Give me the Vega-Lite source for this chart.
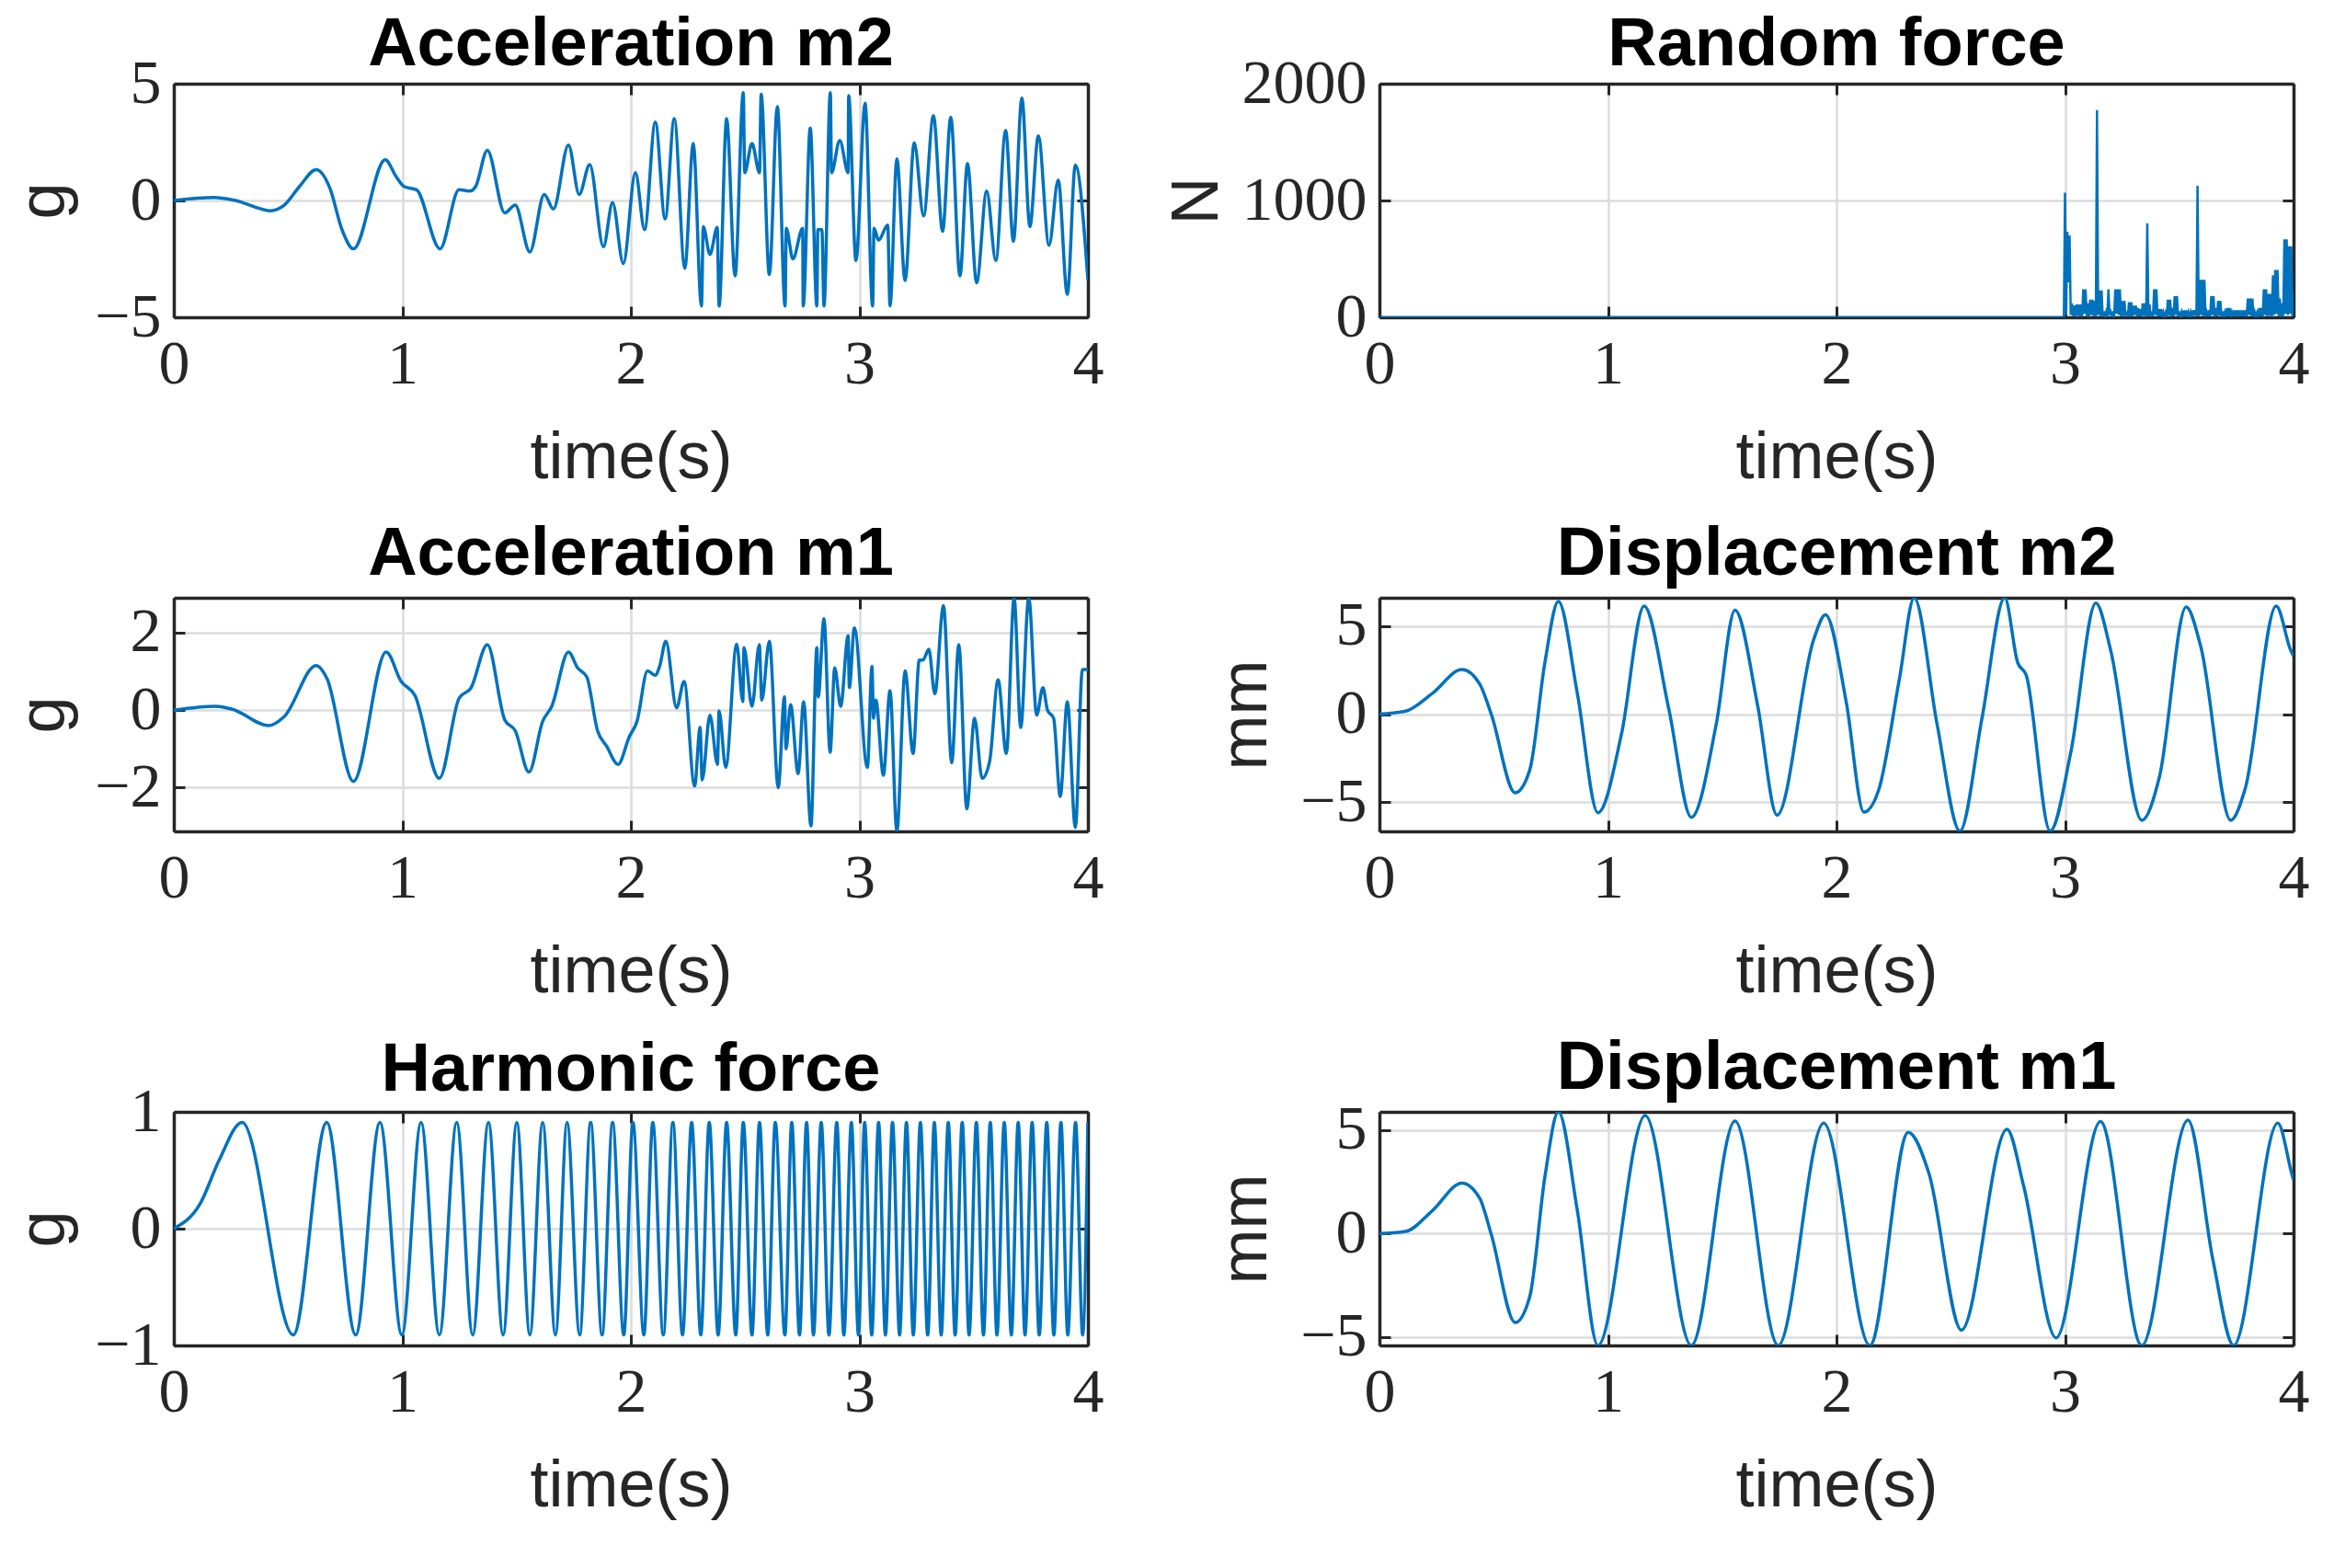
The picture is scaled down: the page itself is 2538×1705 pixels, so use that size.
{
"$schema": "https://vega.github.io/schema/vega-lite/v6.json",
"background": "white",
"padding": {"left": 11, "top": 12, "right": 20, "bottom": 20},
"bounds": "flush",
"columns": 2,
"spacing": {"row": 305, "column": 317},
"datasets": {
"am2": [{"t":0,"v":0},{"t":0.177,"v":0.13},{"t":0.27,"v":0},{"t":0.423,"v":-0.44},{"t":0.483,"v":-0.2},{"t":0.55,"v":0.6},{"t":0.623,"v":1.32},{"t":0.683,"v":0.53},{"t":0.736,"v":-1.25},{"t":0.786,"v":-2.07},{"t":0.925,"v":1.74},{"t":0.975,"v":0.99},{"t":1.009,"v":0.59},{"t":1.062,"v":0.46},{"t":1.165,"v":-2.07},{"t":1.248,"v":0.46},{"t":1.295,"v":0.4},{"t":1.321,"v":0.6},{"t":1.372,"v":2.15},{"t":1.448,"v":-0.53},{"t":1.494,"v":-0.2},{"t":1.558,"v":-2.2},{"t":1.621,"v":0.26},{"t":1.661,"v":-0.36},{"t":1.727,"v":2.37},{"t":1.774,"v":0.26},{"t":1.82,"v":1.54},{"t":1.88,"v":-1.98},{"t":1.92,"v":-0.09},{"t":1.967,"v":-2.7},{"t":2.02,"v":1.19},{"t":2.06,"v":-1.25},{"t":2.107,"v":3.36},{"t":2.15,"v":-0.79},{"t":2.19,"v":3.5},{"t":2.236,"v":-2.9},{"t":2.273,"v":2.44},{"t":2.309,"v":-4.52},{"t":2.317,"v":-1.12},{"t":2.346,"v":-2.31},{"t":2.378,"v":-1.15},{"t":2.386,"v":-4.52},{"t":2.419,"v":3.5},{"t":2.456,"v":-3.23},{"t":2.492,"v":4.62},{"t":2.498,"v":1.19},{"t":2.53,"v":2.44},{"t":2.563,"v":1.19},{"t":2.57,"v":4.55},{"t":2.606,"v":-3.17},{"t":2.641,"v":4.02},{"t":2.675,"v":-4.52},{"t":2.68,"v":-1.19},{"t":2.709,"v":-2.5},{"t":2.752,"v":-1.19},{"t":2.754,"v":-4.52},{"t":2.785,"v":3.1},{"t":2.814,"v":-4.52},{"t":2.818,"v":-1.25},{"t":2.836,"v":-1.25},{"t":2.845,"v":-4.52},{"t":2.873,"v":4.62},{"t":2.878,"v":1.19},{"t":2.914,"v":2.57},{"t":2.951,"v":1.19},{"t":2.953,"v":4.49},{"t":2.985,"v":-2.57},{"t":3.025,"v":4.16},{"t":3.058,"v":-4.52},{"t":3.064,"v":-1.19},{"t":3.084,"v":-1.7},{"t":3.124,"v":-1.05},{"t":3.134,"v":-4.52},{"t":3.164,"v":1.78},{"t":3.2,"v":-3.43},{"t":3.24,"v":2.47},{"t":3.281,"v":-0.66},{"t":3.324,"v":3.63},{"t":3.364,"v":-1.32},{"t":3.4,"v":3.56},{"t":3.44,"v":-3.23},{"t":3.473,"v":1.58},{"t":3.513,"v":-3.52},{"t":3.557,"v":0.4},{"t":3.597,"v":-2.57},{"t":3.64,"v":3.0},{"t":3.674,"v":-1.75},{"t":3.711,"v":4.39},{"t":3.746,"v":-1.12},{"t":3.783,"v":2.77},{"t":3.83,"v":-1.91},{"t":3.87,"v":0.88},{"t":3.91,"v":-4.02},{"t":3.945,"v":1.52},{"t":4.0,"v":-3.4}],
"rf": [{"t":0,"v":0},{"t":2.995,"v":0},{"t":3.000,"v":1067},{"t":3.005,"v":20},{"t":3.010,"v":733},{"t":3.015,"v":300},{"t":3.020,"v":700},{"t":3.025,"v":20},{"t":3.030,"v":120},{"t":3.035,"v":10},{"t":3.040,"v":100},{"t":3.045,"v":5},{"t":3.050,"v":110},{"t":3.055,"v":15},{"t":3.060,"v":110},{"t":3.065,"v":5},{"t":3.070,"v":110},{"t":3.075,"v":10},{"t":3.080,"v":240},{"t":3.085,"v":30},{"t":3.090,"v":240},{"t":3.095,"v":10},{"t":3.100,"v":120},{"t":3.105,"v":5},{"t":3.110,"v":150},{"t":3.115,"v":20},{"t":3.120,"v":150},{"t":3.125,"v":10},{"t":3.130,"v":140},{"t":3.135,"v":5},{"t":3.140,"v":1773},{"t":3.145,"v":20},{"t":3.150,"v":230},{"t":3.155,"v":10},{"t":3.160,"v":230},{"t":3.165,"v":5},{"t":3.170,"v":50},{"t":3.175,"v":10},{"t":3.180,"v":45},{"t":3.185,"v":5},{"t":3.190,"v":240},{"t":3.195,"v":20},{"t":3.200,"v":45},{"t":3.205,"v":10},{"t":3.210,"v":50},{"t":3.215,"v":5},{"t":3.220,"v":240},{"t":3.225,"v":30},{"t":3.230,"v":240},{"t":3.235,"v":20},{"t":3.240,"v":240},{"t":3.245,"v":10},{"t":3.250,"v":140},{"t":3.255,"v":5},{"t":3.260,"v":140},{"t":3.265,"v":15},{"t":3.270,"v":50},{"t":3.275,"v":5},{"t":3.280,"v":130},{"t":3.285,"v":10},{"t":3.290,"v":130},{"t":3.295,"v":5},{"t":3.300,"v":100},{"t":3.305,"v":20},{"t":3.310,"v":100},{"t":3.315,"v":5},{"t":3.320,"v":80},{"t":3.325,"v":10},{"t":3.330,"v":70},{"t":3.335,"v":5},{"t":3.340,"v":120},{"t":3.345,"v":15},{"t":3.350,"v":120},{"t":3.355,"v":5},{"t":3.360,"v":805},{"t":3.365,"v":10},{"t":3.370,"v":110},{"t":3.375,"v":5},{"t":3.380,"v":50},{"t":3.385,"v":10},{"t":3.390,"v":240},{"t":3.395,"v":20},{"t":3.400,"v":240},{"t":3.405,"v":5},{"t":3.410,"v":70},{"t":3.415,"v":10},{"t":3.420,"v":70},{"t":3.425,"v":5},{"t":3.430,"v":45},{"t":3.435,"v":10},{"t":3.440,"v":40},{"t":3.445,"v":5},{"t":3.450,"v":150},{"t":3.455,"v":15},{"t":3.460,"v":150},{"t":3.465,"v":5},{"t":3.470,"v":80},{"t":3.475,"v":10},{"t":3.480,"v":180},{"t":3.485,"v":20},{"t":3.490,"v":180},{"t":3.495,"v":5},{"t":3.500,"v":50},{"t":3.505,"v":10},{"t":3.510,"v":45},{"t":3.515,"v":5},{"t":3.520,"v":60},{"t":3.525,"v":10},{"t":3.530,"v":60},{"t":3.535,"v":5},{"t":3.540,"v":45},{"t":3.545,"v":10},{"t":3.550,"v":45},{"t":3.555,"v":5},{"t":3.560,"v":60},{"t":3.565,"v":15},{"t":3.570,"v":60},{"t":3.575,"v":5},{"t":3.580,"v":1125},{"t":3.585,"v":10},{"t":3.590,"v":320},{"t":3.595,"v":20},{"t":3.600,"v":320},{"t":3.605,"v":10},{"t":3.610,"v":320},{"t":3.615,"v":5},{"t":3.620,"v":45},{"t":3.625,"v":10},{"t":3.630,"v":60},{"t":3.635,"v":5},{"t":3.640,"v":180},{"t":3.645,"v":20},{"t":3.650,"v":180},{"t":3.655,"v":5},{"t":3.660,"v":80},{"t":3.665,"v":10},{"t":3.670,"v":140},{"t":3.675,"v":15},{"t":3.680,"v":140},{"t":3.685,"v":5},{"t":3.690,"v":50},{"t":3.695,"v":10},{"t":3.700,"v":45},{"t":3.705,"v":5},{"t":3.710,"v":80},{"t":3.715,"v":10},{"t":3.720,"v":80},{"t":3.725,"v":5},{"t":3.730,"v":45},{"t":3.735,"v":10},{"t":3.740,"v":60},{"t":3.745,"v":5},{"t":3.750,"v":60},{"t":3.755,"v":10},{"t":3.760,"v":60},{"t":3.765,"v":5},{"t":3.770,"v":60},{"t":3.775,"v":10},{"t":3.780,"v":60},{"t":3.785,"v":5},{"t":3.790,"v":60},{"t":3.795,"v":10},{"t":3.800,"v":160},{"t":3.805,"v":20},{"t":3.810,"v":160},{"t":3.815,"v":10},{"t":3.820,"v":160},{"t":3.825,"v":5},{"t":3.830,"v":45},{"t":3.835,"v":10},{"t":3.840,"v":40},{"t":3.845,"v":5},{"t":3.850,"v":80},{"t":3.855,"v":10},{"t":3.860,"v":80},{"t":3.865,"v":5},{"t":3.870,"v":240},{"t":3.875,"v":20},{"t":3.880,"v":240},{"t":3.885,"v":10},{"t":3.890,"v":200},{"t":3.895,"v":15},{"t":3.900,"v":200},{"t":3.905,"v":5},{"t":3.910,"v":360},{"t":3.915,"v":20},{"t":3.920,"v":405},{"t":3.925,"v":30},{"t":3.930,"v":405},{"t":3.935,"v":10},{"t":3.940,"v":160},{"t":3.945,"v":5},{"t":3.950,"v":120},{"t":3.955,"v":10},{"t":3.960,"v":667},{"t":3.965,"v":30},{"t":3.970,"v":667},{"t":3.975,"v":20},{"t":3.980,"v":608},{"t":3.985,"v":30},{"t":3.990,"v":608},{"t":3.995,"v":10},{"t":4.000,"v":200}],
"am1": [{"t":0,"v":0},{"t":0.184,"v":0.1},{"t":0.257,"v":0.02},{"t":0.416,"v":-0.4},{"t":0.483,"v":-0.17},{"t":0.623,"v":1.15},{"t":0.67,"v":0.82},{"t":0.786,"v":-1.84},{"t":0.929,"v":1.5},{"t":0.995,"v":0.74},{"t":1.055,"v":0.38},{"t":1.162,"v":-1.76},{"t":1.248,"v":0.3},{"t":1.301,"v":0.58},{"t":1.372,"v":1.69},{"t":1.448,"v":-0.25},{"t":1.494,"v":-0.53},{"t":1.554,"v":-1.6},{"t":1.614,"v":-0.29},{"t":1.654,"v":0.1},{"t":1.727,"v":1.5},{"t":1.767,"v":1.09},{"t":1.807,"v":0.86},{"t":1.854,"v":-0.53},{"t":1.894,"v":-0.93},{"t":1.944,"v":-1.4},{"t":1.993,"v":-0.69},{"t":2.027,"v":-0.29},{"t":2.073,"v":1.01},{"t":2.106,"v":0.9},{"t":2.126,"v":1.13},{"t":2.153,"v":1.78},{"t":2.2,"v":0.06},{"t":2.233,"v":0.74},{"t":2.279,"v":-1.96},{"t":2.303,"v":-0.45},{"t":2.312,"v":-1.8},{"t":2.346,"v":-0.13},{"t":2.379,"v":-1.4},{"t":2.386,"v":-0.02},{"t":2.415,"v":-1.48},{"t":2.463,"v":1.7},{"t":2.49,"v":0.22},{"t":2.495,"v":1.61},{"t":2.53,"v":0.1},{"t":2.562,"v":1.69},{"t":2.573,"v":0.26},{"t":2.606,"v":1.78},{"t":2.645,"v":-2.0},{"t":2.672,"v":0.34},{"t":2.679,"v":-1.0},{"t":2.699,"v":0.14},{"t":2.732,"v":-1.64},{"t":2.756,"v":0.22},{"t":2.788,"v":-2.99},{"t":2.814,"v":1.61},{"t":2.82,"v":0.34},{"t":2.845,"v":2.36},{"t":2.872,"v":-1.09},{"t":2.892,"v":1.09},{"t":2.918,"v":0.1},{"t":2.951,"v":1.92},{"t":2.956,"v":0.58},{"t":2.978,"v":2.12},{"t":3.035,"v":-1.48},{"t":3.055,"v":1.13},{"t":3.062,"v":-0.21},{"t":3.072,"v":0.26},{"t":3.105,"v":-1.68},{"t":3.134,"v":0.5},{"t":3.164,"v":-3.13},{"t":3.2,"v":1.01},{"t":3.235,"v":-1.12},{"t":3.262,"v":1.29},{"t":3.278,"v":1.29},{"t":3.304,"v":1.57},{"t":3.33,"v":0.42},{"t":3.368,"v":2.7},{"t":3.404,"v":-1.36},{"t":3.435,"v":1.69},{"t":3.47,"v":-2.55},{"t":3.504,"v":-0.21},{"t":3.537,"v":-1.76},{"t":3.57,"v":-1.32},{"t":3.607,"v":0.78},{"t":3.643,"v":-1.12},{"t":3.677,"v":2.9},{"t":3.706,"v":-0.45},{"t":3.741,"v":2.9},{"t":3.776,"v":-0.13},{"t":3.803,"v":0.58},{"t":3.823,"v":0.0},{"t":3.85,"v":-0.21},{"t":3.879,"v":-2.23},{"t":3.91,"v":0.22},{"t":3.945,"v":-3.03},{"t":3.976,"v":1.05},{"t":4.0,"v":1.05}],
"dm2": [{"t":0,"v":0},{"t":0.115,"v":0.17},{"t":0.232,"v":1.18},{"t":0.361,"v":2.53},{"t":0.439,"v":1.7},{"t":0.49,"v":-0.03},{"t":0.594,"v":-4.46},{"t":0.658,"v":-3.16},{"t":0.724,"v":2.92},{"t":0.783,"v":6.39},{"t":0.866,"v":1.18},{"t":0.956,"v":-5.59},{"t":1.06,"v":-1.08},{"t":1.158,"v":6.13},{"t":1.266,"v":0.31},{"t":1.365,"v":-5.85},{"t":1.474,"v":-0.56},{"t":1.556,"v":5.9},{"t":1.655,"v":0.49},{"t":1.74,"v":-5.73},{"t":1.9,"v":4.22},{"t":1.952,"v":5.64},{"t":2.043,"v":0.66},{"t":2.12,"v":-5.56},{"t":2.185,"v":-4.29},{"t":2.276,"v":2.05},{"t":2.34,"v":6.6},{"t":2.44,"v":-0.56},{"t":2.54,"v":-6.63},{"t":2.637,"v":-0.21},{"t":2.736,"v":6.6},{"t":2.793,"v":2.92},{"t":2.83,"v":2.22},{"t":2.935,"v":-6.63},{"t":3.026,"v":-2.12},{"t":3.135,"v":6.3},{"t":3.2,"v":3.61},{"t":3.336,"v":-6.02},{"t":3.414,"v":-3.51},{"t":3.53,"v":6.08},{"t":3.595,"v":3.78},{"t":3.725,"v":-6.02},{"t":3.789,"v":-4.2},{"t":3.924,"v":6.13},{"t":3.988,"v":3.61},{"t":4.0,"v":3.3}],
"hf": [{"t":0,"v":0},{"t":0.117,"v":0.22},{"t":0.197,"v":0.58},{"t":0.299,"v":0.91},{"t":0.523,"v":-0.91},{"t":0.669,"v":0.91},{"t":0.796,"v":-0.91},{"t":0.902,"v":0.91},{"t":0.998,"v":-0.91},{"t":1.082,"v":0.91},{"t":1.162,"v":-0.91},{"t":1.238,"v":0.91},{"t":1.308,"v":-0.91},{"t":1.377,"v":0.91},{"t":1.441,"v":-0.91},{"t":1.501,"v":0.91},{"t":1.558,"v":-0.91},{"t":1.614,"v":0.91},{"t":1.67,"v":-0.91},{"t":1.721,"v":0.91},{"t":1.776,"v":-0.91},{"t":1.824,"v":0.91},{"t":1.874,"v":-0.91},{"t":1.92,"v":0.91},{"t":1.969,"v":-0.91},{"t":2.009,"v":0.91},{"t":2.057,"v":-0.91},{"t":2.096,"v":0.91},{"t":2.142,"v":-0.91},{"t":2.184,"v":0.91},{"t":2.226,"v":-0.91},{"t":2.266,"v":0.91},{"t":2.306,"v":-0.91},{"t":2.343,"v":0.91},{"t":2.382,"v":-0.91},{"t":2.419,"v":0.91},{"t":2.459,"v":-0.91},{"t":2.492,"v":0.91},{"t":2.53,"v":-0.91},{"t":2.563,"v":0.91},{"t":2.599,"v":-0.91},{"t":2.632,"v":0.91},{"t":2.674,"v":-0.91},{"t":2.704,"v":0.91},{"t":2.738,"v":-0.91},{"t":2.769,"v":0.91},{"t":2.799,"v":-0.91},{"t":2.833,"v":0.91},{"t":2.867,"v":-0.91},{"t":2.901,"v":0.91},{"t":2.932,"v":-0.91},{"t":2.965,"v":0.91},{"t":2.996,"v":-0.91},{"t":3.023,"v":0.91},{"t":3.054,"v":-0.91},{"t":3.084,"v":0.91},{"t":3.114,"v":-0.91},{"t":3.145,"v":0.91},{"t":3.176,"v":-0.91},{"t":3.206,"v":0.91},{"t":3.236,"v":-0.91},{"t":3.267,"v":0.91},{"t":3.299,"v":-0.91},{"t":3.328,"v":0.91},{"t":3.358,"v":-0.91},{"t":3.389,"v":0.91},{"t":3.419,"v":-0.91},{"t":3.45,"v":0.91},{"t":3.48,"v":-0.91},{"t":3.512,"v":0.91},{"t":3.543,"v":-0.91},{"t":3.573,"v":0.91},{"t":3.602,"v":-0.91},{"t":3.634,"v":0.91},{"t":3.665,"v":-0.91},{"t":3.695,"v":0.91},{"t":3.725,"v":-0.91},{"t":3.756,"v":0.91},{"t":3.787,"v":-0.91},{"t":3.82,"v":0.91},{"t":3.851,"v":-0.91},{"t":3.882,"v":0.91},{"t":3.912,"v":-0.91},{"t":3.946,"v":0.91},{"t":3.977,"v":-0.91},{"t":4.0,"v":0.91}],
"dm1": [{"t":0,"v":0},{"t":0.115,"v":0.1},{"t":0.232,"v":1.11},{"t":0.361,"v":2.44},{"t":0.439,"v":1.7},{"t":0.49,"v":-0.07},{"t":0.594,"v":-4.3},{"t":0.658,"v":-3.04},{"t":0.724,"v":2.74},{"t":0.783,"v":5.88},{"t":0.866,"v":1.11},{"t":0.956,"v":-5.41},{"t":1.163,"v":5.7},{"t":1.365,"v":-5.41},{"t":1.556,"v":5.44},{"t":1.745,"v":-5.41},{"t":1.944,"v":5.33},{"t":2.146,"v":-5.41},{"t":2.314,"v":4.89},{"t":2.405,"v":2.89},{"t":2.547,"v":-4.67},{"t":2.746,"v":5.04},{"t":2.819,"v":2.3},{"t":2.961,"v":-5.04},{"t":3.155,"v":5.41},{"t":3.336,"v":-5.41},{"t":3.538,"v":5.48},{"t":3.647,"v":-1.26},{"t":3.738,"v":-5.41},{"t":3.931,"v":5.33},{"t":3.996,"v":2.74},{"t":4.0,"v":2.6}]
},
"concat": [
{"title": {"text": "Acceleration m2", "offset": -30}, "width": 994, "height": 254, "data": {"name": "am2"},
 "resolve": {"axis": {"x": "independent", "y": "independent"}},
 "layer": [
  {"mark": {"type": "line", "interpolate": "monotone", "clip": true},
   "encoding": {
    "x": {"field": "t", "type": "quantitative", "scale": {"domain": [0, 4], "nice": false}, "axis": {"values": [0,1,2,3,4], "title": "time(s)"}},
    "y": {"field": "v", "type": "quantitative", "scale": {"domain": [-5, 5], "nice": false, "zero": false}, "axis": {"values": [-5,0,5], "title": "g", "titleX": -142, "titleY": 127}}}},
  {"mark": {"type": "line", "strokeOpacity": 0, "clip": true},
   "encoding": {
    "x": {"field": "t", "type": "quantitative", "axis": {"orient": "top", "values": [0,1,2,3,4], "labels": false, "title": null, "grid": false}},
    "y": {"field": "v", "type": "quantitative", "axis": {"orient": "right", "values": [-5,0,5], "labels": false, "title": null, "grid": false}}}}
 ]},
{"title": {"text": "Random force", "offset": -30}, "width": 994, "height": 254, "data": {"name": "rf"},
 "resolve": {"axis": {"x": "independent", "y": "independent"}},
 "layer": [
  {"mark": {"type": "line", "clip": true, "strokeWidth": 2.5},
   "encoding": {
    "x": {"field": "t", "type": "quantitative", "scale": {"domain": [0, 4], "nice": false}, "axis": {"values": [0,1,2,3,4], "title": "time(s)"}},
    "y": {"field": "v", "type": "quantitative", "scale": {"domain": [0, 2000], "nice": false, "zero": false}, "axis": {"values": [0,1000,2000], "title": "N", "titleX": -199, "titleY": 127}}}},
  {"mark": {"type": "line", "strokeOpacity": 0, "clip": true},
   "encoding": {
    "x": {"field": "t", "type": "quantitative", "axis": {"orient": "top", "values": [0,1,2,3,4], "labels": false, "title": null, "grid": false}},
    "y": {"field": "v", "type": "quantitative", "axis": {"orient": "right", "values": [0,1000,2000], "labels": false, "title": null, "grid": false}}}}
 ]},
{"title": {"text": "Acceleration m1", "offset": 8}, "width": 994, "height": 254, "data": {"name": "am1"},
 "resolve": {"axis": {"x": "independent", "y": "independent"}},
 "layer": [
  {"mark": {"type": "line", "interpolate": "monotone", "clip": true},
   "encoding": {
    "x": {"field": "t", "type": "quantitative", "scale": {"domain": [0, 4], "nice": false}, "axis": {"values": [0,1,2,3,4], "title": "time(s)"}},
    "y": {"field": "v", "type": "quantitative", "scale": {"domain": [-3.13, 2.9], "nice": false, "zero": false}, "axis": {"values": [-2,0,2], "title": "g", "titleX": -142, "titleY": 127}}}},
  {"mark": {"type": "line", "strokeOpacity": 0, "clip": true},
   "encoding": {
    "x": {"field": "t", "type": "quantitative", "axis": {"orient": "top", "values": [0,1,2,3,4], "labels": false, "title": null, "grid": false}},
    "y": {"field": "v", "type": "quantitative", "axis": {"orient": "right", "values": [-2,0,2], "labels": false, "title": null, "grid": false}}}}
 ]},
{"title": {"text": "Displacement m2", "offset": 6}, "width": 994, "height": 254, "data": {"name": "dm2"},
 "resolve": {"axis": {"x": "independent", "y": "independent"}},
 "layer": [
  {"mark": {"type": "line", "interpolate": "monotone", "clip": true},
   "encoding": {
    "x": {"field": "t", "type": "quantitative", "scale": {"domain": [0, 4], "nice": false}, "axis": {"values": [0,1,2,3,4], "title": "time(s)"}},
    "y": {"field": "v", "type": "quantitative", "scale": {"domain": [-6.65, 6.6], "nice": false, "zero": false}, "axis": {"values": [-5,0,5], "title": "mm", "titleX": -146, "titleY": 127}}}},
  {"mark": {"type": "line", "strokeOpacity": 0, "clip": true},
   "encoding": {
    "x": {"field": "t", "type": "quantitative", "axis": {"orient": "top", "values": [0,1,2,3,4], "labels": false, "title": null, "grid": false}},
    "y": {"field": "v", "type": "quantitative", "axis": {"orient": "right", "values": [-5,0,5], "labels": false, "title": null, "grid": false}}}}
 ]},
{"title": {"text": "Harmonic force", "offset": -27}, "width": 994, "height": 254, "data": {"name": "hf"},
 "resolve": {"axis": {"x": "independent", "y": "independent"}},
 "layer": [
  {"mark": {"type": "line", "interpolate": "monotone", "clip": true},
   "encoding": {
    "x": {"field": "t", "type": "quantitative", "scale": {"domain": [0, 4], "nice": false}, "axis": {"values": [0,1,2,3,4], "title": "time(s)"}},
    "y": {"field": "v", "type": "quantitative", "scale": {"domain": [-1, 1], "nice": false, "zero": false}, "axis": {"values": [-1,0,1], "title": "g", "titleX": -142, "titleY": 127}}}},
  {"mark": {"type": "line", "strokeOpacity": 0, "clip": true},
   "encoding": {
    "x": {"field": "t", "type": "quantitative", "axis": {"orient": "top", "values": [0,1,2,3,4], "labels": false, "title": null, "grid": false}},
    "y": {"field": "v", "type": "quantitative", "axis": {"orient": "right", "values": [-1,0,1], "labels": false, "title": null, "grid": false}}}}
 ]},
{"title": {"text": "Displacement m1", "offset": -5}, "width": 994, "height": 254, "data": {"name": "dm1"},
 "resolve": {"axis": {"x": "independent", "y": "independent"}},
 "layer": [
  {"mark": {"type": "line", "interpolate": "monotone", "clip": true},
   "encoding": {
    "x": {"field": "t", "type": "quantitative", "scale": {"domain": [0, 4], "nice": false}, "axis": {"values": [0,1,2,3,4], "title": "time(s)"}},
    "y": {"field": "v", "type": "quantitative", "scale": {"domain": [-5.41, 5.88], "nice": false, "zero": false}, "axis": {"values": [-5,0,5], "title": "mm", "titleX": -146, "titleY": 127}}}},
  {"mark": {"type": "line", "strokeOpacity": 0, "clip": true},
   "encoding": {
    "x": {"field": "t", "type": "quantitative", "axis": {"orient": "top", "values": [0,1,2,3,4], "labels": false, "title": null, "grid": false}},
    "y": {"field": "v", "type": "quantitative", "axis": {"orient": "right", "values": [-5,0,5], "labels": false, "title": null, "grid": false}}}}
 ]}
],
"config": {
 "view": {"stroke": null},
 "line": {"color": "#0072BD", "strokeWidth": 3.5},
 "axis": {"domain": true, "domainColor": "#262626", "domainWidth": 3.5, "grid": true, "gridColor": "#dcdcdc", "gridWidth": 2.5, "ticks": true, "tickColor": "#262626", "tickWidth": 3, "tickSize": -12, "labelFlush": false, "labelOverlap": false, "labelFont": "Liberation Serif", "labelFontSize": 68, "labelColor": "#262626", "titleFont": "Liberation Sans", "titleFontSize": 72, "titleFontWeight": "normal", "titleColor": "#262626", "titleBaseline": "middle", "format": "d"},
 "axisX": {"labelPadding": 29, "titleX": 497, "titleY": 152},
 "axisY": {"labelPadding": 26},
 "title": {"font": "Liberation Sans", "fontSize": 74, "fontWeight": "bold", "color": "#000000", "frame": "group"}
}
}
